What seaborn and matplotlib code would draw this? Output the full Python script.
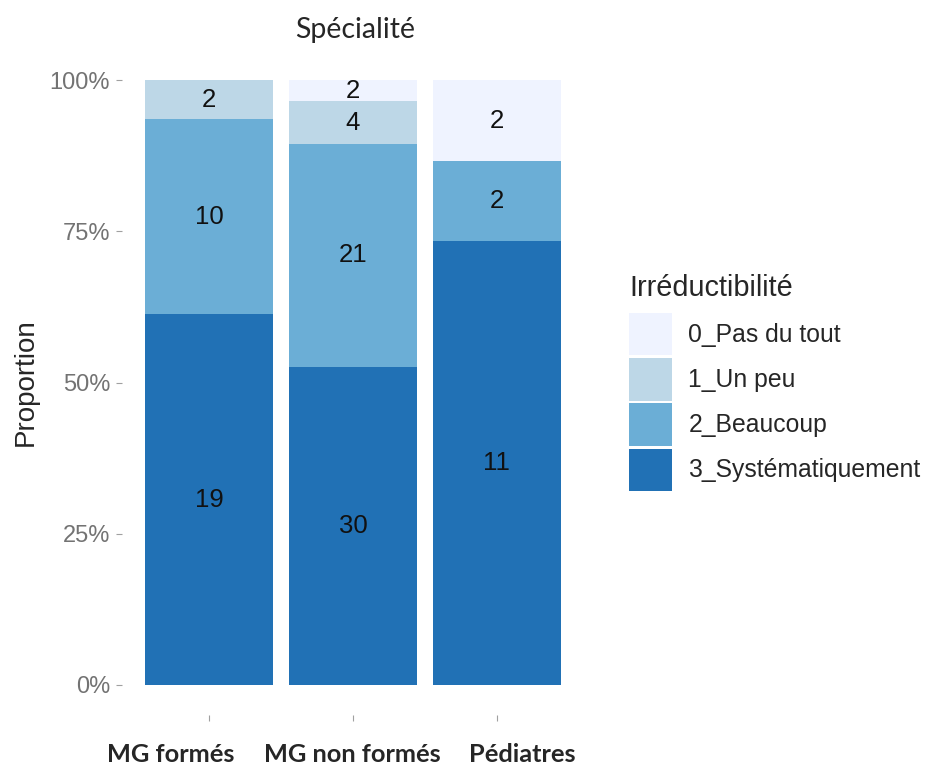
import numpy as np
import pandas as pd
import matplotlib.pyplot as plt
from matplotlib.patches import Patch
from matplotlib.ticker import PercentFormatter
import seaborn as sns

# effectifs par niveau d'irréductibilité, une valeur par spécialité
specialites = ['MG formés', 'MG non formés', 'Pédiatres']
niveaux = ['0_Pas du tout', '1_Un peu', '2_Beaucoup', '3_Systématiquement']
n_pas_du_tout = [0, 2, 2]
n_un_peu = [2, 4, 0]
n_beaucoup = [10, 21, 2]
n_systematique = [19, 30, 11]
couleurs = ['#EFF3FF', '#BDD7E7', '#6BAED6', '#2171B5']

df = pd.DataFrame({
    'Spécialité': specialites * 4,
    'Irréductibilité': np.repeat(niveaux, len(specialites)),
    'n': n_pas_du_tout + n_un_peu + n_beaucoup + n_systematique,
})

sns.set_theme(style='white')
plt.rcParams['font.family'] = ['Liberation Sans', 'DejaVu Sans']

fig = plt.figure(figsize=(9.28, 7.67), dpi=100)
ax = fig.add_axes([0.132, 0.0678, 0.4966, 0.867])

sns.histplot(data=df, x='Spécialité', hue='Irréductibilité', weights='n',
             multiple='fill', hue_order=niveaux, palette=couleurs,
             discrete=True, shrink=0.89, linewidth=0, alpha=1,
             legend=False, ax=ax)

# étiquettes d'effectifs au centre de chaque segment (empilement du bas vers le haut)
tab = df.pivot(index='Spécialité', columns='Irréductibilité', values='n').loc[specialites, niveaux[::-1]]
for i, spec in enumerate(specialites):
    row = tab.loc[spec]
    total = row.sum()
    bas = 0
    for niv in row.index:
        v = row[niv]
        if v > 0:
            ax.text(i, (bas + v / 2) / total, str(v), ha='center', va='center',
                    fontsize=18.5, color='#111111')
        bas += v

ax.set_xlim(-0.6, 2.6)
ax.set_ylim(-0.05, 1.05)
ax.set_yticks([0, 0.25, 0.5, 0.75, 1])
ax.yaxis.set_major_formatter(PercentFormatter(1, decimals=0))
ax.set_xticks(range(len(specialites)))
ax.set_xticklabels([])
ax.tick_params(axis='y', left=True, length=4, width=0.8, color='#a0a0a0',
               labelsize=17, labelcolor='#737373', pad=5)
ax.tick_params(axis='x', bottom=True, length=4, width=0.8, color='#a0a0a0')
for s in ax.spines.values():
    s.set_visible(False)
ax.set_xlabel('')
ax.set_ylabel('Proportion', fontsize=20, labelpad=8)

# libellés des spécialités sous l'axe (décalés comme dans l'original)
label_x = [171, 352, 522]
for lab, px in zip(specialites, label_x):
    fig.text(px / 928, 1 - 754 / 767, lab, ha='center', va='center',
             fontfamily='Lato', fontweight='bold', fontsize=18.3)

fig.text(355 / 928, 1 - 30 / 767, 'Spécialité', ha='center', va='center',
         fontfamily='Lato', fontsize=20.5)

handles = [Patch(facecolor=c, edgecolor='none') for c in couleurs]
leg = fig.legend(handles, niveaux, loc='upper left', bbox_to_anchor=(629 / 928, 1 - 274 / 767),
                 frameon=False, title='Irréductibilité', fontsize=17.8, title_fontsize=20.8,
                 handlelength=1.75, handleheight=2.25, labelspacing=0.12, handletextpad=0.65,
                 borderaxespad=0, borderpad=0)
leg._legend_box.align = 'left'
leg._legend_box.sep = 8

fig.savefig('out.png', dpi=100)
